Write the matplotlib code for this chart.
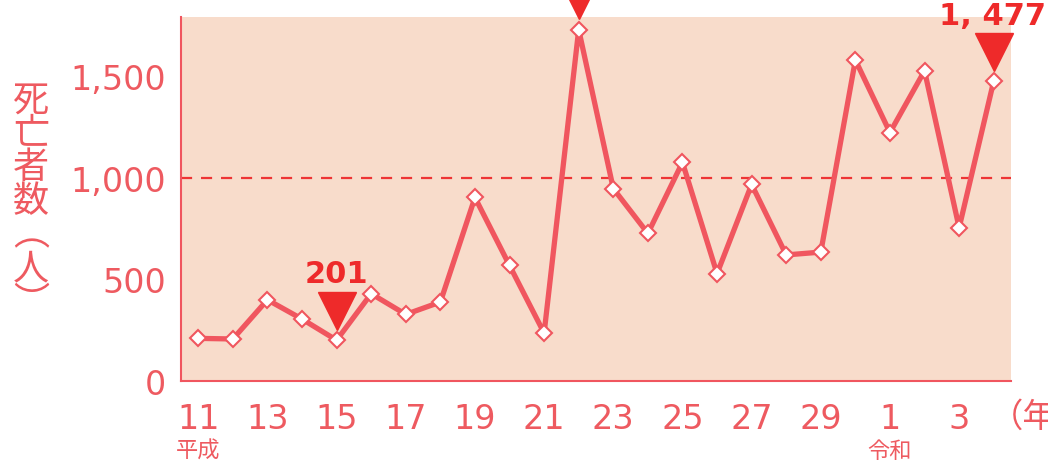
import matplotlib.pyplot as plt
from matplotlib import transforms

plt.rcParams['font.family'] = ['DejaVu Sans', 'Noto Sans CJK JP']

# heatstroke deaths by year (Heisei 11 .. Reiwa 4)
years = list(range(1999, 2023))
deaths = [210, 207, 400, 305, 201, 430, 328, 389, 904, 569, 236, 1731,
          948, 727, 1077, 529, 968, 621, 635, 1581, 1224, 1528, 755, 1477]
tick_years = years[::2]
tick_labels = ['11', '13', '15', '17', '19', '21', '23', '25', '27', '29', '1', '3']
y_ticks = [0, 500, 1000, 1500]
y_labels = ['0', '500', '1,000', '1,500']
marked_years = [2003, 2010, 2022]

line_col = '#F0565F'
text_col = '#EE5A60'
mark_red = '#EE2A2A'
back = '#F8DCCB'
cjk = ['Noto Sans CJK JP', 'DejaVu Sans']

fig = plt.figure(figsize=(10.48, 4.64), dpi=100)
ax = fig.add_axes([181 / 1048, 1 - 382 / 464, 830 / 1048, 364 / 464])
ax.set_facecolor(back)

ax.plot(years, deaths, color=line_col, lw=3.8, marker='D', ms=8.5,
        mfc='white', mec=line_col, mew=1.5, zorder=3)
ax.axhline(1000, color='#EE3535', lw=1.6, dashes=(5, 4), zorder=2)

ax.set_xlim(1998.5, 2022.5)
ax.set_ylim(0, 1793)

ax.set_xticks(tick_years)
ax.set_xticklabels(tick_labels)
ax.set_yticks(y_ticks)
ax.set_yticklabels(y_labels)
ax.tick_params(length=0, labelsize=24, labelcolor=text_col)
ax.tick_params(axis='y', pad=11)
ax.tick_params(axis='x', pad=15)

for s in ['top', 'right']:
    ax.spines[s].set_visible(False)
for s in ['left', 'bottom']:
    ax.spines[s].set_color(line_col)
    ax.spines[s].set_linewidth(1.5)

# red triangles above the highlighted years
shift = ax.transData + transforms.ScaledTranslation(0, 21 / 72, fig.dpi_scale_trans)
for yr in marked_years:
    v = deaths[years.index(yr)]
    ax.plot([yr], [v], marker='v', ms=28, color=mark_red, linestyle='none',
            clip_on=False, transform=shift, zorder=4)

ax.annotate('201', xy=(2003, deaths[4]), xytext=(0, 48), textcoords='offset points',
            ha='center', va='center', fontsize=22, fontweight='bold', color=mark_red)
ax.annotate('1, 477', xy=(2022, deaths[-1]), xytext=(-1, 47), textcoords='offset points',
            ha='center', va='center', fontsize=22, fontweight='bold', color=mark_red,
            annotation_clip=False)

# era labels
ax.annotate('平成', xy=(1999, 0), xytext=(0, -50), textcoords='offset points',
            ha='center', va='center', fontsize=16, color=text_col, family=cjk)
ax.annotate('令和', xy=(2019, 0), xytext=(0, -50), textcoords='offset points',
            ha='center', va='center', fontsize=16, color=text_col, family=cjk)
fig.text(990 / 1048, 1 - 417 / 464, '（年）', ha='left', va='center',
         fontsize=24, color=text_col, family=cjk)

fig.text(31 / 1048, 1 - 202 / 464, '\n'.join('死亡者数︵人︶'), ha='center', va='center',
         fontsize=26, color=text_col, linespacing=0.92, family=cjk)

fig.savefig('out.png', dpi=100)
